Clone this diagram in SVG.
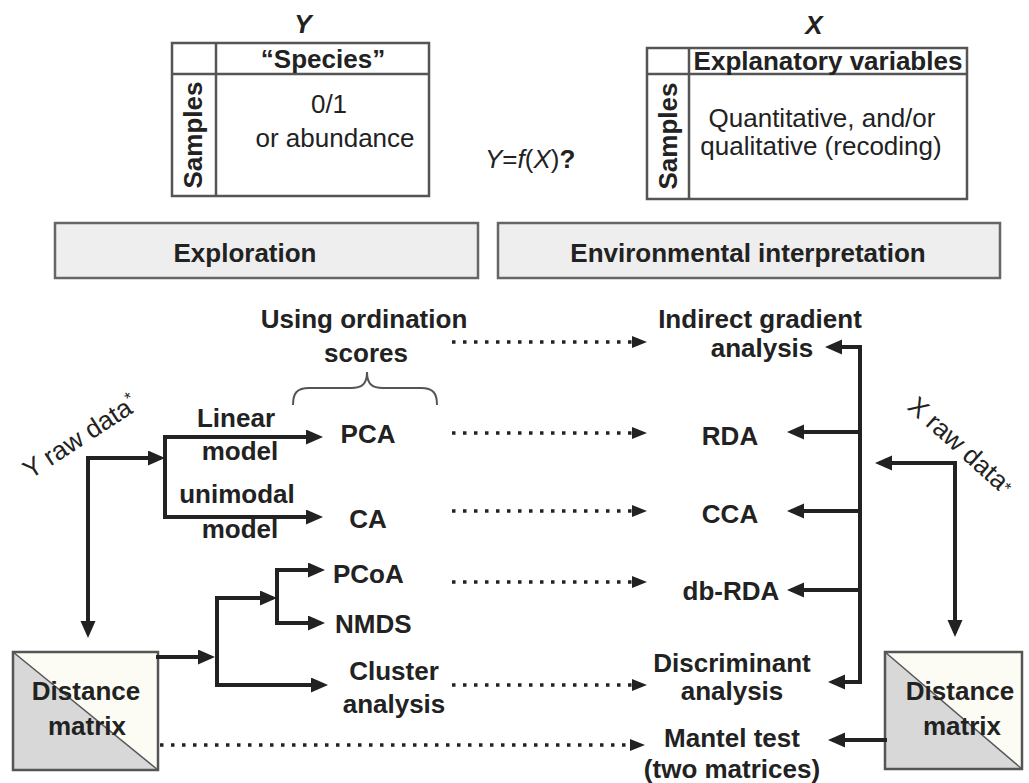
<svg xmlns="http://www.w3.org/2000/svg" width="1029" height="783" viewBox="0 0 1029 783">
<style>
text{font-family:"Liberation Sans",Arial,Helvetica,sans-serif;font-size:26px;fill:#222;text-anchor:middle}
.b{font-weight:bold}
.l{text-anchor:start}
.tbl{fill:#fff;stroke:#555;stroke-width:2.5}
.grid{stroke:#555;stroke-width:2.5;fill:none}
.band{fill:#eeeeee;stroke:#666;stroke-width:2.5}
.solid{fill:none;stroke:#222;stroke-width:4;stroke-linecap:square;stroke-linejoin:miter}
.arr{marker-end:url(#ah)}
.dot{fill:none;stroke:#222;stroke-width:3.5;stroke-dasharray:3.5 7.5;marker-end:url(#dh)}
.brace{fill:none;stroke:#555;stroke-width:2}
.dmup{fill:#fcfcf4}
.dmlow{fill:#d8d8d8}
.dmline{stroke:#555;stroke-width:1.5}
.dmbox{fill:none;stroke:#555;stroke-width:2.5}
</style>
<defs>
<marker id="ah" markerUnits="userSpaceOnUse" markerWidth="18" markerHeight="16" refX="11" refY="7.5" orient="auto" viewBox="0 0 18 16">
<path d="M0,0 L17,7.5 L0,15 z" fill="#222"/>
</marker>
<marker id="dh" markerUnits="userSpaceOnUse" markerWidth="16" markerHeight="13" refX="9" refY="6" orient="auto" viewBox="0 0 16 13">
<path d="M0,0 L15,6 L0,12 z" fill="#222"/>
</marker>
</defs>

<g id="tableY">
<text class="b" x="303" y="33" font-style="italic">Y</text>
<rect class="tbl" x="172" y="43" width="257" height="153"/>
<path class="grid" d="M172,74 H429 M216,43 V196"/>
<text class="b" x="323" y="68">“Species”</text>
<text class="b" transform="translate(202,135) rotate(-90)" x="0" y="0">Samples</text>
<text x="329" y="113">0/1</text>
<text x="335" y="147">or abundance</text>
</g>

<g id="tableX">
<text class="b" x="814" y="34" font-style="italic">X</text>
<rect class="tbl" x="647" y="48" width="320" height="151"/>
<path class="grid" d="M647,74 H967 M689,48 V199"/>
<text class="b" x="828" y="70">Explanatory variables</text>
<text class="b" transform="translate(677,136) rotate(-90)" x="0" y="0">Samples</text>
<text x="822" y="127">Quantitative, and/or</text>
<text x="821" y="155">qualitative (recoding)</text>
</g>

<g id="yfx">
<text class="l" x="485" y="168"><tspan font-style="italic">Y</tspan>=<tspan font-style="italic">f</tspan>(<tspan font-style="italic">X</tspan>)<tspan font-weight="bold">?</tspan></text>
</g>

<g id="exploration">
<rect class="band" x="55" y="223" width="423" height="55"/>
<text class="b" x="245" y="262">Exploration</text>
</g>
<g id="environmental">
<rect class="band" x="498" y="223" width="502" height="55"/>
<text class="b" x="748" y="262">Environmental interpretation</text>
</g>

<g id="ordscores">
<text class="b" x="364" y="328">Using ordination</text>
<text class="b" x="366" y="362">scores</text>
<path class="brace" d="M293,405 C293,393 297,388 309,388 L351,388 C362,388 367,384 367,372 C367,384 372,388 383,388 L421,388 C433,388 437,393 437,405"/>
</g>

<g id="yraw">
<text transform="translate(85,444) rotate(-33)" x="0" y="0">Y raw data<tspan font-size="17" dy="-9">*</tspan></text>
</g>
<g id="xraw">
<text transform="translate(955,452) rotate(42)" x="0" y="0">X raw data<tspan font-size="17" dy="-2">*</tspan></text>
</g>

<g id="labels-left">
<text class="b" x="236" y="427">Linear</text>
<text class="b" x="240" y="460">model</text>
<text class="b" x="237" y="503">unimodal</text>
<text class="b" x="240" y="538">model</text>
</g>

<g id="pca"><text class="b" x="368" y="443">PCA</text></g>
<g id="ca"><text class="b" x="368" y="528">CA</text></g>
<g id="pcoa"><text class="b l" x="333" y="583">PCoA</text></g>
<g id="nmds"><text class="b l" x="335" y="633">NMDS</text></g>
<g id="cluster">
<text class="b" x="394" y="680">Cluster</text>
<text class="b" x="394" y="713">analysis</text>
</g>

<g id="indirect">
<text class="b" x="760" y="328">Indirect gradient</text>
<text class="b" x="762" y="357">analysis</text>
</g>
<g id="rda"><text class="b" x="730" y="445">RDA</text></g>
<g id="cca"><text class="b" x="730" y="523">CCA</text></g>
<g id="dbrda"><text class="b" x="731" y="600">db-RDA</text></g>
<g id="discriminant">
<text class="b" x="732" y="672">Discriminant</text>
<text class="b" x="732" y="700">analysis</text>
</g>
<g id="mantel">
<text class="b" x="732" y="747">Mantel test</text>
<text class="b" x="732" y="778">(two matrices)</text>
</g>

<g id="distY">
<rect class="dmup" x="13" y="652" width="145" height="118"/>
<polygon class="dmlow" points="13,652 13,770 158,770"/>
<line class="dmline" x1="13" y1="652" x2="158" y2="770"/>
<rect class="dmbox" x="13" y="652" width="145" height="118"/>
<text class="b" x="86" y="700">Distance</text>
<text class="b" x="87" y="735">matrix</text>
</g>

<g id="distX">
<rect class="dmup" x="885" y="652" width="137" height="117"/>
<polygon class="dmlow" points="885,652 885,769 1022,769"/>
<line class="dmline" x1="885" y1="652" x2="1022" y2="769"/>
<rect class="dmbox" x="885" y="652" width="137" height="117"/>
<text class="b" x="960" y="700">Distance</text>
<text class="b" x="962" y="735">matrix</text>
</g>

<g id="connectors">
<path class="solid arr" d="M88,458 L159,458"/>
<path class="solid arr" d="M88,458 L88,632"/>
<path class="solid" d="M165,437 L165,517"/>
<path class="solid arr" d="M165,437 L317,437"/>
<path class="solid arr" d="M165,517 L317,517"/>

<path class="solid arr" d="M158,657 L209,657"/>
<path class="solid" d="M217,598 L217,685"/>
<path class="solid arr" d="M217,598 L271,598"/>
<path class="solid" d="M277,570 L277,623"/>
<path class="solid arr" d="M277,570 L319,570"/>
<path class="solid arr" d="M277,623 L319,623"/>
<path class="solid arr" d="M217,685 L322,685"/>

<path class="solid" d="M860,347 L860,682"/>
<path class="solid arr" d="M860,347 L831,347"/>
<path class="solid arr" d="M860,432 L793,432"/>
<path class="solid arr" d="M860,511 L793,511"/>
<path class="solid arr" d="M860,590 L793,590"/>
<path class="solid arr" d="M860,682 L834,682"/>

<path class="solid arr" d="M955,463 L881,463"/>
<path class="solid arr" d="M955,463 L955,631"/>
<path class="solid arr" d="M885,740 L834,740"/>

<path class="dot" d="M452,342 L641,342"/>
<path class="dot" d="M452,433 L641,433"/>
<path class="dot" d="M452,511 L641,511"/>
<path class="dot" d="M452,582 L641,582"/>
<path class="dot" d="M452,685 L641,685"/>
<path class="dot" d="M160,745 L639,745"/>
</g>
</svg>
